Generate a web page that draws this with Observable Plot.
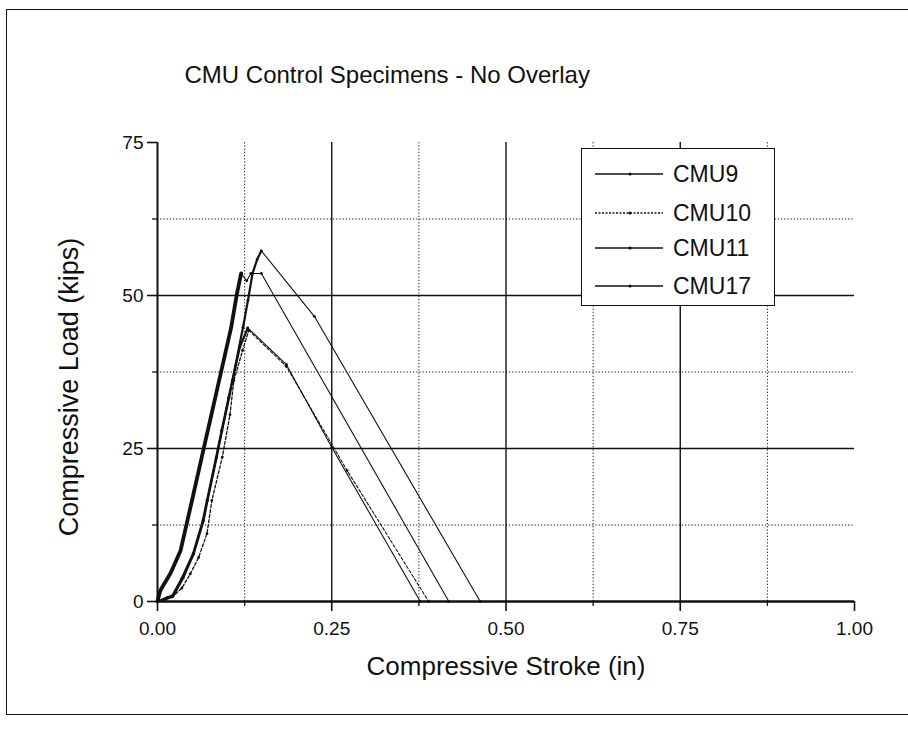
<!DOCTYPE html>
<html><head><meta charset="utf-8">
<script src="https://cdn.jsdelivr.net/npm/d3@7"></script>
<script src="https://cdn.jsdelivr.net/npm/@observablehq/plot@0.6"></script>
<style>
body{margin:0;background:#fff;font-family:"Liberation Sans",Arial,Helvetica,sans-serif;}
#wrap{position:relative;width:908px;height:733px;overflow:hidden;background:#fff;}
#frame{position:absolute;left:6px;top:9px;width:940px;height:706px;border:1.5px solid #111;box-sizing:border-box;pointer-events:none;}
#chart{position:absolute;left:0;top:0;}
#legend{position:absolute;left:581px;top:148px;width:194px;height:158px;border:1.5px solid #111;background:#fff;box-sizing:border-box;}
.row{position:absolute;left:0;height:30px;width:190px;}
.row svg{position:absolute;left:13px;top:0;}
.row span{position:absolute;left:91px;top:0;line-height:30px;font-size:23px;color:#111;}
</style>
</head><body>
<div id="wrap">
  <div id="chart"></div>
  <div id="frame"></div>
  <div id="legend"></div>
</div>
<script>
// ---- data ----
const seriesNames = ["CMU9", "CMU10", "CMU11", "CMU17"];

const x9  = [0, 0.014, 0.023, 0.037, 0.052, 0.066, 0.0717, 0.0847, 0.0925, 0.1026, 0.1076, 0.1227, 0.1298, 0.1363, 0.143, 0.149, 0.225, 0.463];
const y9  = [0, 0.65, 1.0, 3.9, 7.8, 13.2, 16.5, 23.5, 27.9, 33.3, 36.1, 44.8, 49.2, 53.6, 55.9, 57.3, 46.6, 0];

const x10 = [0, 0.012, 0.021, 0.035, 0.047, 0.059, 0.071, 0.078, 0.093, 0.104, 0.1095, 0.122, 0.131, 0.185, 0.272, 0.389];
const y10 = [0, 0.3, 0.7, 2.2, 4.5, 7.2, 11.1, 16.5, 23.6, 30.5, 36.1, 41.0, 44.3, 38.4, 21.4, 0];

const x11 = [0, 0.004, 0.0187, 0.033, 0.0495, 0.0657, 0.0765, 0.0884, 0.1057, 0.114, 0.120, 0.128, 0.134, 0.149, 0.418];
const y11 = [0, 1.8, 4.6, 8.3, 16.5, 24.7, 30.1, 36.1, 44.8, 50.3, 53.6, 52.4, 53.6, 53.6, 0];

const x17 = [0, 0.012, 0.021, 0.035, 0.051, 0.065, 0.071, 0.084, 0.092, 0.102, 0.1075, 0.118, 0.1295, 0.185, 0.25, 0.377];
const y17 = [0, 0.5, 0.9, 3.8, 7.8, 13.2, 16.5, 23.5, 27.9, 33.3, 36.1, 41.5, 44.7, 38.7, 25.2, 0];

const peakIndex = {CMU9: 15, CMU10: 12, CMU11: 10, CMU17: 12};

const xTicks = [0, 0.25, 0.5, 0.75, 1.0];
const xMinor = [0.125, 0.375, 0.625, 0.875];
const yTicks = [0, 25, 50, 75];
const yMinor = [12.5, 37.5, 62.5];
const xMajorGrid = [0.25, 0.5, 0.75];
const yMajorGrid = [25, 50];

const titleText = "CMU Control Specimens - No Overlay";
const xLabel = "Compressive Stroke (in)";
const yLabel = "Compressive Load (kips)";

// ---- build table ----
const raw = {CMU9: [x9, y9], CMU10: [x10, y10], CMU11: [x11, y11], CMU17: [x17, y17]};
const rows = [];
for (const s of seriesNames) {
  const [xs, ys] = raw[s];
  xs.forEach((x, i) => rows.push({s, i, x, y: ys[i]}));
}
const rise = rows.filter(d => d.i <= peakIndex[d.s]);
const fall = rows.filter(d => d.i >= peakIndex[d.s]);
const riseW = {CMU9: 2.2, CMU10: 1.3, CMU11: 3.8, CMU17: 2.2};
const dash = s => s === "CMU10" ? "3,2" : null;

const ink = "#111";
const marks = [
  Plot.ruleX(xMinor, {y1: 0, y2: 75, stroke: ink, strokeWidth: 1, strokeDasharray: "1.2,2"}),
  Plot.ruleY(yMinor, {x1: 0, x2: 1, stroke: ink, strokeWidth: 1, strokeDasharray: "1.2,2"}),
  Plot.ruleX(xMajorGrid, {y1: 0, y2: 75, stroke: ink, strokeWidth: 1.4}),
  Plot.ruleY(yMajorGrid, {x1: 0, x2: 1, stroke: ink, strokeWidth: 1.4}),
  Plot.ruleX([0], {y1: 0, y2: 75, stroke: ink, strokeWidth: 2}),
  Plot.ruleY([0], {x1: 0, x2: 1, stroke: ink, strokeWidth: 2.5}),
  Plot.axisX({ticks: xTicks, tickFormat: d => d.toFixed(2), tickSize: 10, tickPadding: 10, label: null, fontSize: 19, stroke: ink, strokeWidth: 1.6}),
  Plot.axisX({ticks: xMinor, tickFormat: () => "", tickSize: 5, label: null, stroke: ink, strokeWidth: 1.3}),
  Plot.axisY({ticks: yTicks, tickSize: 10, tickPadding: 4, label: null, fontSize: 19, stroke: ink, strokeWidth: 1.6}),
  Plot.axisY({ticks: yMinor, tickFormat: () => "", tickSize: 5, label: null, stroke: ink, strokeWidth: 1.3}),
];
for (const s of seriesNames) {
  marks.push(Plot.line(rise.filter(d => d.s === s), {x: "x", y: "y", stroke: ink, strokeWidth: riseW[s], strokeDasharray: dash(s), curve: "linear"}));
  marks.push(Plot.line(fall.filter(d => d.s === s), {x: "x", y: "y", stroke: ink, strokeWidth: 1.1, strokeDasharray: dash(s), curve: "linear"}));
}
marks.push(Plot.dot(rows, {x: "x", y: "y", r: 1.4, fill: ink, stroke: "none"}));
marks.push(Plot.text([titleText], {frameAnchor: "top-left", dx: 27, dy: -67, textAnchor: "start", lineAnchor: "middle", fontSize: 24, fill: ink}));
marks.push(Plot.text([xLabel], {frameAnchor: "bottom", dy: 65, textAnchor: "middle", lineAnchor: "middle", fontSize: 26, fill: ink}));
marks.push(Plot.text([yLabel], {frameAnchor: "left", dx: -88, dy: 15, rotate: -90, textAnchor: "middle", lineAnchor: "middle", fontSize: 27, fill: ink}));

const chart = Plot.plot({
  width: 908, height: 733,
  marginLeft: 157, marginRight: 54, marginTop: 142, marginBottom: 132,
  x: {domain: [0, 1]},
  y: {domain: [0, 75]},
  style: {fontFamily: "'Liberation Sans', Arial, Helvetica, sans-serif", color: ink, background: "transparent"},
  marks
});
document.getElementById("chart").appendChild(chart);

// ---- legend ----
const legend = document.getElementById("legend");
const rowTops = [10, 49, 84, 122];
seriesNames.forEach((s, k) => {
  const r = document.createElement("div");
  r.className = "row";
  r.style.top = rowTops[k] + "px";
  const da = s === "CMU10" ? ' stroke-dasharray="2,1.5"' : "";
  r.innerHTML = `<svg width="70" height="30"><line x1="0" y1="15" x2="68" y2="15" stroke="${ink}" stroke-width="1.3"${da}/><circle cx="35" cy="15" r="1.6" fill="${ink}"/></svg><span>${s}</span>`;
  legend.appendChild(r);
});
</script>
</body></html>
